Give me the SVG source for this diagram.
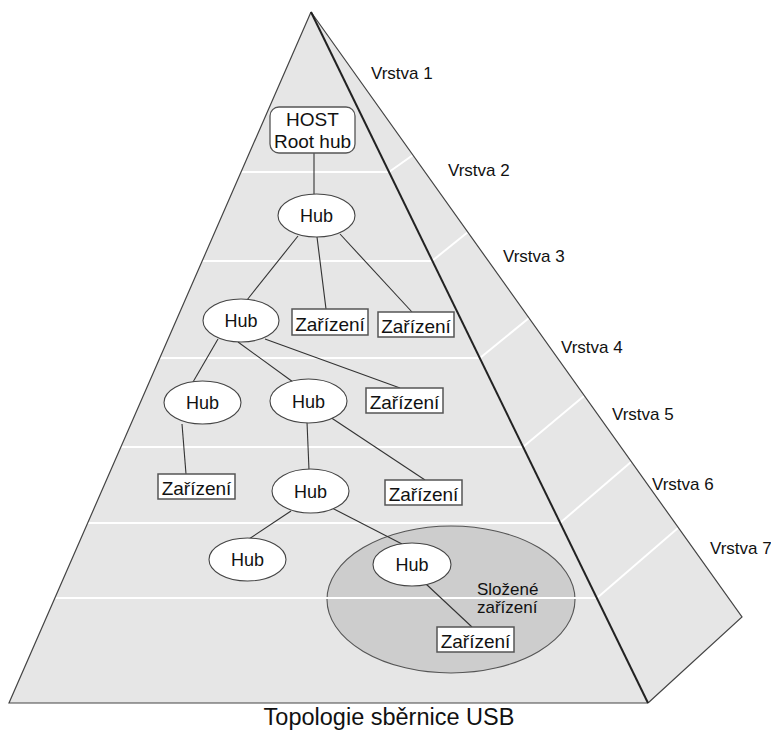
<svg xmlns="http://www.w3.org/2000/svg" width="771" height="731" viewBox="0 0 771 731">
<style>
.face{fill:#e6e6e6;stroke:none}
.edge{fill:none;stroke:#444;stroke-width:1.2}
.main{fill:none;stroke:#222;stroke-width:2}
.wl{stroke:#ffffff;stroke-width:2;fill:none}
.con line{stroke:#333;stroke-width:1.1}
.hub{fill:#ffffff;stroke:#444;stroke-width:1.1}
.dev{fill:#ffffff;stroke:#555;stroke-width:1.5}
.t{font-family:"Liberation Sans",Arial,sans-serif;fill:#111}
.ht{font-size:18px;text-anchor:middle}
.dt{font-size:19px;text-anchor:middle}
.lv{font-size:17px}
</style>
<defs>
<clipPath id="front"><polygon points="311,12 648,703 9,703"/></clipPath>
</defs>
<rect width="771" height="731" fill="#ffffff"/>
<g id="pyramid">
<polygon class="face" points="311,12 742,617 648,703"/>
<polygon class="face" points="311,12 648,703 9,703"/>
</g>
<g id="composite">
<ellipse cx="451" cy="599.5" rx="124" ry="73.5" fill="#cdcdcd" stroke="#555" stroke-width="1.1"/>
<text class="t lv" x="477" y="595">Složené</text>
<text class="t lv" x="477" y="613">zařízení</text>
</g>
<g id="layer-lines">
<g clip-path="url(#front)">
<line class="wl" x1="0" y1="172" x2="389" y2="172"/>
<line class="wl" x1="0" y1="261" x2="432" y2="261"/>
<line class="wl" x1="0" y1="358" x2="480" y2="358"/>
<line class="wl" x1="0" y1="447" x2="523" y2="447"/>
<line class="wl" x1="0" y1="523" x2="560" y2="523"/>
<line class="wl" x1="0" y1="598" x2="597" y2="598"/>
</g>
<line class="wl" x1="389" y1="172" x2="413" y2="155"/>
<line class="wl" x1="432" y1="261" x2="468" y2="232"/>
<line class="wl" x1="480" y1="358" x2="529" y2="318"/>
<line class="wl" x1="523" y1="447" x2="584" y2="396"/>
<line class="wl" x1="560" y1="523" x2="631" y2="462"/>
<line class="wl" x1="597" y1="598" x2="678" y2="528"/>
</g>
<g id="edges">
<polyline class="edge" points="311,12 742,617 648,703"/>
<polyline class="edge" points="311,12 9,703 648,703"/>
<line class="main" x1="311" y1="12" x2="648" y2="703"/>
</g>
<g id="labels">
<text class="t lv" x="371" y="79">Vrstva 1</text>
<text class="t lv" x="448" y="176">Vrstva 2</text>
<text class="t lv" x="503" y="262">Vrstva 3</text>
<text class="t lv" x="561" y="353">Vrstva 4</text>
<text class="t lv" x="612" y="420">Vrstva 5</text>
<text class="t lv" x="652" y="490">Vrstva 6</text>
<text class="t lv" x="710" y="554">Vrstva 7</text>
<text class="t" x="389" y="725" font-size="23.5" text-anchor="middle">Topologie sběrnice USB</text>
</g>
<g id="connectors" class="con">
<line x1="314" y1="153" x2="314" y2="194"/>
<line x1="298" y1="236" x2="247" y2="300"/>
<line x1="317" y1="237" x2="326" y2="309"/>
<line x1="340" y1="234" x2="412" y2="312"/>
<line x1="218" y1="339" x2="193" y2="382"/>
<line x1="238" y1="342" x2="293" y2="382"/>
<line x1="265" y1="339" x2="400" y2="388"/>
<line x1="182" y1="424" x2="186" y2="474"/>
<line x1="307" y1="422" x2="309" y2="470"/>
<line x1="330" y1="417" x2="425" y2="480"/>
<line x1="291" y1="511" x2="249" y2="539"/>
<line x1="332" y1="508" x2="402" y2="544"/>
<line x1="426" y1="584" x2="472" y2="627"/>
</g>
<g id="host">
<rect x="270" y="107" width="85" height="46" rx="9" fill="#ffffff" stroke="#555" stroke-width="1.3"/>
<text class="t dt" x="312.5" y="126">HOST</text>
<text class="t dt" x="312.5" y="148">Root hub</text>
</g>
<g id="hub1"><ellipse class="hub" cx="316.5" cy="215.5" rx="38.5" ry="21.5"/><text class="t ht" x="316.5" y="222">Hub</text></g>
<g id="hub2"><ellipse class="hub" cx="241" cy="320.5" rx="38" ry="21.5"/><text class="t ht" x="241" y="327">Hub</text></g>
<g id="dev1"><rect class="dev" x="292" y="309" width="76" height="26"/><text class="t dt" x="330" y="330.5">Zařízení</text></g>
<g id="dev2"><rect class="dev" x="378" y="312" width="76" height="25"/><text class="t dt" x="416" y="333">Zařízení</text></g>
<g id="hub3"><ellipse class="hub" cx="202.5" cy="402.5" rx="38.5" ry="21.5"/><text class="t ht" x="202.5" y="409">Hub</text></g>
<g id="hub4"><ellipse class="hub" cx="308.5" cy="401" rx="38.5" ry="22"/><text class="t ht" x="308.5" y="407.5">Hub</text></g>
<g id="dev3"><rect class="dev" x="366" y="388" width="77" height="25"/><text class="t dt" x="404.5" y="409">Zařízení</text></g>
<g id="dev4"><rect class="dev" x="158" y="474" width="77" height="25"/><text class="t dt" x="196.5" y="495">Zařízení</text></g>
<g id="hub5"><ellipse class="hub" cx="310.5" cy="491" rx="38.5" ry="22"/><text class="t ht" x="310.5" y="497.5">Hub</text></g>
<g id="dev5"><rect class="dev" x="385" y="480" width="77" height="25"/><text class="t dt" x="423.5" y="501">Zařízení</text></g>
<g id="hub6"><ellipse class="hub" cx="247.5" cy="559.5" rx="38.5" ry="21.5"/><text class="t ht" x="247.5" y="566">Hub</text></g>
<g id="hub7"><ellipse class="hub" cx="412" cy="564.5" rx="39" ry="21.5"/><text class="t ht" x="412" y="571">Hub</text></g>
<g id="dev6"><rect class="dev" x="437" y="627" width="77" height="25"/><text class="t dt" x="475.5" y="648">Zařízení</text></g>
</svg>
